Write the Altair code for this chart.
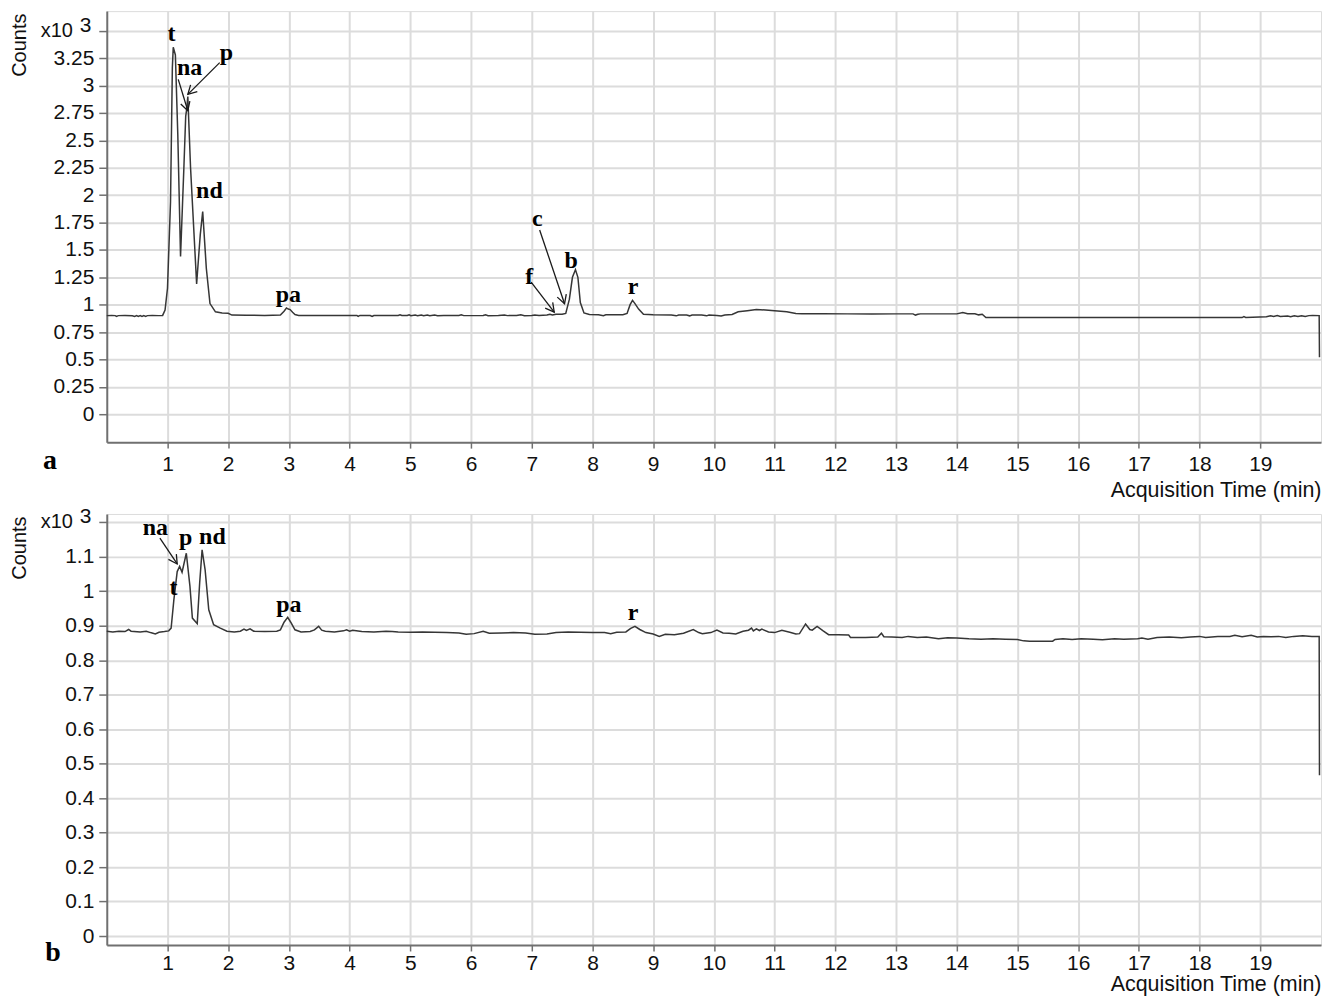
import math
import altair as alt
import pandas as pd

# ---------------- data: panel a ----------------
TIME_A = [0.00, 0.08, 0.14, 0.16, 0.19, 0.30, 0.42, 0.46, 0.49, 0.52, 0.55, 0.58, 0.61, 0.64, 0.67,
          0.75, 0.85, 0.92, 0.96, 1.00, 1.05, 1.08, 1.095, 1.13, 1.17, 1.215, 1.27, 1.30, 1.315, 1.335,
          1.38, 1.48, 1.54, 1.58, 1.64, 1.70, 1.79, 1.90, 2.00, 2.06, 2.30, 2.60, 2.86, 2.92, 2.96,
          2.99, 3.02, 3.06, 3.10, 3.16, 3.50, 3.90, 4.12, 4.14, 4.17, 4.34, 4.37, 4.40, 4.80, 4.83,
          4.86, 4.95, 4.98, 5.01, 5.08, 5.12, 5.18, 5.22, 5.28, 5.32, 5.40, 5.45, 5.55, 5.80, 5.84,
          5.88, 6.20, 6.24, 6.28, 6.45, 6.55, 6.60, 6.75, 6.82, 6.88, 7.00, 7.05, 7.12, 7.25, 7.30,
          7.34, 7.40, 7.50, 7.56, 7.62, 7.67, 7.72, 7.76, 7.80, 7.86, 7.95, 8.10, 8.18, 8.22, 8.50,
          8.57, 8.62, 8.66, 8.70, 8.76, 8.84, 9.00, 9.30, 9.38, 9.42, 9.55, 9.60, 9.64, 9.80, 9.88,
          9.92, 10.05, 10.12, 10.18, 10.30, 10.40, 10.55, 10.70, 10.85, 11.00, 11.20, 11.35, 11.45,
          11.80, 12.20, 12.60, 13.00, 13.28, 13.32, 13.36, 13.40, 14.00, 14.10, 14.18, 14.30, 14.36,
          14.42, 14.48, 15.00, 16.00, 17.00, 18.00, 18.70, 18.73, 18.76, 19.10, 19.17, 19.22, 19.28,
          19.33, 19.45, 19.50, 19.56, 19.62, 19.68, 19.74, 19.80, 19.86, 19.97, 19.975]
COUNTS_A = [0.900, 0.902, 0.900, 0.893, 0.900, 0.901, 0.899, 0.893, 0.900, 0.892, 0.900, 0.892, 0.900, 0.893, 0.900,
            0.901, 0.900, 0.902, 0.950, 1.150, 1.940, 3.160, 3.350, 3.280, 2.550, 1.440, 2.250, 2.720, 2.780, 2.900,
            2.250, 1.190, 1.640, 1.850, 1.330, 1.010, 0.935, 0.925, 0.922, 0.905, 0.903, 0.902, 0.905, 0.940, 0.970,
            0.960, 0.955, 0.930, 0.910, 0.902, 0.902, 0.901, 0.901, 0.893, 0.902, 0.901, 0.892, 0.901, 0.902, 0.908,
            0.901, 0.901, 0.908, 0.900, 0.905, 0.900, 0.906, 0.900, 0.906, 0.900, 0.905, 0.900, 0.902, 0.901, 0.907,
            0.900, 0.901, 0.907, 0.900, 0.902, 0.906, 0.900, 0.901, 0.907, 0.900, 0.902, 0.906, 0.901, 0.905, 0.912,
            0.905, 0.912, 0.912, 0.920, 1.050, 1.250, 1.320, 1.250, 1.020, 0.925, 0.910, 0.908, 0.900, 0.908, 0.908,
            0.920, 1.000, 1.040, 1.010, 0.960, 0.912, 0.908, 0.906, 0.898, 0.906, 0.905, 0.898, 0.906, 0.905, 0.898,
            0.906, 0.902, 0.897, 0.905, 0.910, 0.935, 0.945, 0.955, 0.952, 0.945, 0.935, 0.920, 0.917,
            0.917, 0.916, 0.915, 0.916, 0.916, 0.905, 0.912, 0.916, 0.916, 0.928, 0.918, 0.917, 0.907,
            0.913, 0.882, 0.882, 0.882, 0.882, 0.882, 0.882, 0.891, 0.883, 0.889, 0.898, 0.892, 0.900,
            0.892, 0.897, 0.891, 0.899, 0.892, 0.899, 0.893, 0.900, 0.901, 0.900, 0.520]

# ---------------- data: panel b ----------------
TIME_B = [0.00, 0.10, 0.20, 0.30, 0.36, 0.40, 0.55, 0.65, 0.72, 0.80, 0.86, 0.95, 1.02, 1.06, 1.105,
          1.16, 1.20, 1.24, 1.31, 1.37, 1.41, 1.49, 1.53, 1.57, 1.62, 1.68, 1.76, 1.87, 1.98, 2.10,
          2.20, 2.26, 2.30, 2.36, 2.42, 2.60, 2.80, 2.86, 2.92, 2.98, 3.03, 3.10, 3.20, 3.35, 3.42,
          3.49, 3.54, 3.60, 3.75, 3.90, 3.95, 4.00, 4.05, 4.20, 4.40, 4.60, 4.70, 4.80, 5.00, 5.20,
          5.40, 5.60, 5.80, 5.92, 6.05, 6.20, 6.30, 6.50, 6.70, 6.90, 7.05, 7.25, 7.40, 7.60, 7.80,
          8.00, 8.20, 8.30, 8.40, 8.55, 8.63, 8.70, 8.78, 8.88, 9.00, 9.10, 9.20, 9.35, 9.50, 9.66,
          9.75, 9.81, 9.95, 10.05, 10.15, 10.25, 10.36, 10.48, 10.57, 10.62, 10.65, 10.70, 10.75, 10.79,
          10.90, 11.00, 11.12, 11.25, 11.35, 11.41, 11.51, 11.58, 11.62, 11.70, 11.80, 11.89, 12.05,
          12.22, 12.25, 12.50, 12.70, 12.76, 12.80, 12.93, 13.10, 13.20, 13.35, 13.50, 13.70, 13.85,
          14.00, 14.20, 14.40, 14.60, 14.80, 15.00, 15.10, 15.20, 15.58, 15.62, 15.75, 15.90, 16.05,
          16.25, 16.40, 16.60, 16.75, 16.98, 17.05, 17.15, 17.30, 17.50, 17.70, 17.85, 18.00, 18.10,
          18.30, 18.50, 18.58, 18.70, 18.85, 18.95, 19.05, 19.18, 19.30, 19.42, 19.55, 19.70, 19.85,
          19.97, 19.975]
COUNTS_B = [0.884, 0.882, 0.884, 0.883, 0.889, 0.884, 0.882, 0.884, 0.880, 0.876, 0.881, 0.883, 0.885, 0.893, 0.975,
            1.057, 1.072, 1.055, 1.110, 1.014, 0.922, 0.906, 1.024, 1.120, 1.062, 0.946, 0.903, 0.893, 0.884, 0.882,
            0.884, 0.890, 0.886, 0.891, 0.884, 0.883, 0.884, 0.888, 0.910, 0.924, 0.910, 0.888, 0.882, 0.883, 0.888,
            0.898, 0.887, 0.884, 0.882, 0.885, 0.888, 0.884, 0.887, 0.883, 0.882, 0.884, 0.883, 0.882, 0.881, 0.882,
            0.881, 0.880, 0.879, 0.875, 0.877, 0.884, 0.878, 0.879, 0.880, 0.879, 0.875, 0.876, 0.880, 0.882, 0.881,
            0.880, 0.880, 0.877, 0.881, 0.882, 0.892, 0.898, 0.889, 0.880, 0.876, 0.869, 0.875, 0.874, 0.878, 0.889,
            0.880, 0.877, 0.880, 0.887, 0.879, 0.878, 0.876, 0.884, 0.887, 0.893, 0.885, 0.891, 0.886, 0.890,
            0.882, 0.880, 0.887, 0.881, 0.876, 0.877, 0.905, 0.889, 0.887, 0.898, 0.885, 0.874, 0.874,
            0.873, 0.866, 0.866, 0.867, 0.878, 0.868, 0.867, 0.866, 0.869, 0.866, 0.867, 0.862, 0.865,
            0.864, 0.862, 0.861, 0.862, 0.861, 0.860, 0.856, 0.855, 0.855, 0.860, 0.862, 0.860, 0.862,
            0.861, 0.859, 0.862, 0.861, 0.862, 0.864, 0.861, 0.866, 0.867, 0.865, 0.867, 0.869, 0.866,
            0.869, 0.869, 0.872, 0.868, 0.872, 0.867, 0.869, 0.868, 0.869, 0.866, 0.869, 0.871, 0.869,
            0.869, 0.466]

# ---------------- annotations ----------------
LABEL_A = ["t", "na", "p", "nd", "pa", "c", "f", "b", "r"]
LABEL_A_T = [1.067, 1.363, 1.97, 1.69, 2.99, 7.09, 6.96, 7.65, 8.67]
LABEL_A_V = [3.47, 3.16, 3.30, 2.04, 1.084, 1.785, 1.257, 1.40, 1.157]
ARROW_A_T1 = [1.177, 1.86, 6.99, 7.13]
ARROW_A_V1 = [3.057, 3.21, 1.205, 1.682]
ARROW_A_T2 = [1.335, 1.335, 7.37, 7.54]
ARROW_A_V2 = [2.77, 2.92, 0.932, 1.008]

LABEL_B = ["na", "p", "nd", "t", "pa", "r"]
LABEL_B_T = [0.80, 1.30, 1.74, 1.10, 3.00, 8.67]
LABEL_B_V = [1.184, 1.155, 1.158, 1.01, 0.961, 0.938]
ARROW_B_T1 = [0.875]
ARROW_B_V1 = [1.154]
ARROW_B_T2 = [1.16]
ARROW_B_V2 = [1.079]

X_TICKS = list(range(1, 20))
Y_TICKS_A = [0, 0.25, 0.5, 0.75, 1, 1.25, 1.5, 1.75, 2, 2.25, 2.5, 2.75, 3, 3.25, 3.5]
Y_TICKS_B = [0, 0.1, 0.2, 0.3, 0.4, 0.5, 0.6, 0.7, 0.8, 0.9, 1.0, 1.1, 1.2]

W, H = 1217, 432
X_DOM = [0, 20]
YA_DOM = [-0.255, 3.68]
YB_DOM = [-0.026, 1.224]

SANS = "Liberation Sans"
SERIF = "Liberation Serif"
AX = "#707070"
GRID = "#dcdcdc"
TXT = "#111111"


def arrow_df(t1, v1, t2, v2, ydom):
    rows = []
    for a, b, c, d in zip(t1, v1, t2, v2):
        dx = (c - a) * W / (X_DOM[1] - X_DOM[0])
        dy = -(d - b) * H / (ydom[1] - ydom[0])
        ang = math.degrees(math.atan2(dy, dx)) % 360
        rows.append({"t1": a, "v1": b, "t2": c, "v2": d, "ang": ang})
    return pd.DataFrame(rows)


def panel(times, counts, labels, lt, lv, arrows, ydom, yticks, exp_tick, letter, letter_xy,
          lab_pad, title_pad):
    xs = alt.Scale(domain=X_DOM, nice=False, zero=False)
    ys = alt.Scale(domain=ydom, nice=False, zero=False)
    xaxis = alt.Axis(values=X_TICKS, tickCount=len(X_TICKS), format="d", grid=True,
                     gridColor=GRID, gridWidth=2,
                     domainColor=AX, domainWidth=2, tickColor=AX, tickWidth=1.5, tickSize=6,
                     labelFont=SANS, labelFontSize=21, labelColor=TXT, labelPadding=lab_pad,
                     labelOverlap=False,
                     title="Acquisition Time (min)", titleFont=SANS, titleFontSize=21.5,
                     titleFontWeight="normal", titleColor=TXT, titleAnchor="end",
                     titlePadding=title_pad)
    yaxis = alt.Axis(values=yticks, tickCount=len(yticks), grid=True,
                     gridColor=GRID, gridWidth=2,
                     domainColor=AX, domainWidth=2, tickColor=AX, tickWidth=1.5, tickSize=8,
                     labelFont=SANS, labelFontSize=21, labelColor=TXT, labelPadding=5,
                     labelOverlap=False,
                     labelExpr=f"datum.value >= {exp_tick} ? '' : format(datum.value, '~g')",
                     title="Counts", titleFont=SANS, titleFontSize=20, titleFontWeight="normal",
                     titleColor=TXT, titleAngle=270, titleAlign="right", titleBaseline="middle",
                     titleX=-87, titleY=2)
    df = pd.DataFrame({"t": times, "v": counts})
    line = alt.Chart(df).mark_line(color="#363636", strokeWidth=1.5).encode(
        x=alt.X("t:Q", scale=xs, axis=xaxis),
        y=alt.Y("v:Q", scale=ys, axis=yaxis),
    )
    ldf = pd.DataFrame({"lab": labels, "t": lt, "v": lv})
    text = alt.Chart(ldf).mark_text(font=SERIF, fontWeight="bold", fontSize=24, color="#000000",
                                    baseline="middle", align="center").encode(
        x=alt.X("t:Q", scale=xs), y=alt.Y("v:Q", scale=ys), text="lab:N")
    adf = arrow_df(*arrows, ydom)
    rules = alt.Chart(adf).mark_rule(color="#1a1a1a", strokeWidth=1.3).encode(
        x=alt.X("t1:Q", scale=xs), y=alt.Y("v1:Q", scale=ys), x2="t2:Q", y2="v2:Q")
    heads = alt.Chart(adf).mark_point(shape="M -1 -0.55 L 0 0 L -1 0.55", filled=False,
                                      color="#1a1a1a", strokeWidth=1.3, size=300, opacity=1).encode(
        x=alt.X("t2:Q", scale=xs), y=alt.Y("v2:Q", scale=ys),
        angle=alt.Angle("ang:Q", scale=None))
    edf = pd.DataFrame({"v": [exp_tick], "a": ["x10"], "b": ["3"]})
    x10 = alt.Chart(edf).mark_text(font=SANS, fontSize=20, color=TXT, align="right",
                                   baseline="middle").encode(
        x=alt.value(-34), y=alt.Y("v:Q", scale=ys), text="a:N")
    e3 = alt.Chart(edf).mark_text(font=SANS, fontSize=21, color=TXT, align="left",
                                  baseline="middle", dy=-5).encode(
        x=alt.value(-27), y=alt.Y("v:Q", scale=ys), text="b:N")
    letdf = pd.DataFrame({"l": [letter]})
    let = alt.Chart(letdf).mark_text(font=SERIF, fontWeight="bold", fontSize=28, color="#000000",
                                     align="center", baseline="alphabetic").encode(
        x=alt.value(letter_xy[0]), y=alt.value(letter_xy[1]), text="l:N")
    return alt.layer(line, rules, heads, text, x10, e3, let).properties(width=W, height=H)


top = panel(TIME_A, COUNTS_A, LABEL_A, LABEL_A_T, LABEL_A_V,
            (ARROW_A_T1, ARROW_A_V1, ARROW_A_T2, ARROW_A_V2), YA_DOM, Y_TICKS_A, 3.5, "a", (-57, 459),
            5, 5)
bottom = panel(TIME_B, COUNTS_B, LABEL_B, LABEL_B_T, LABEL_B_V,
               (ARROW_B_T1, ARROW_B_V1, ARROW_B_T2, ARROW_B_V2), YB_DOM, Y_TICKS_B, 1.2, "b", (-54, 448),
               2, 0)

chart = alt.vconcat(top, bottom, spacing=72, bounds="flush").properties(
    padding={"left": 1, "top": 1, "right": 0, "bottom": 0}
).configure_view(strokeWidth=0).configure(background="white")

chart.save("out.html", embed_options={"renderer": "svg", "actions": False})
